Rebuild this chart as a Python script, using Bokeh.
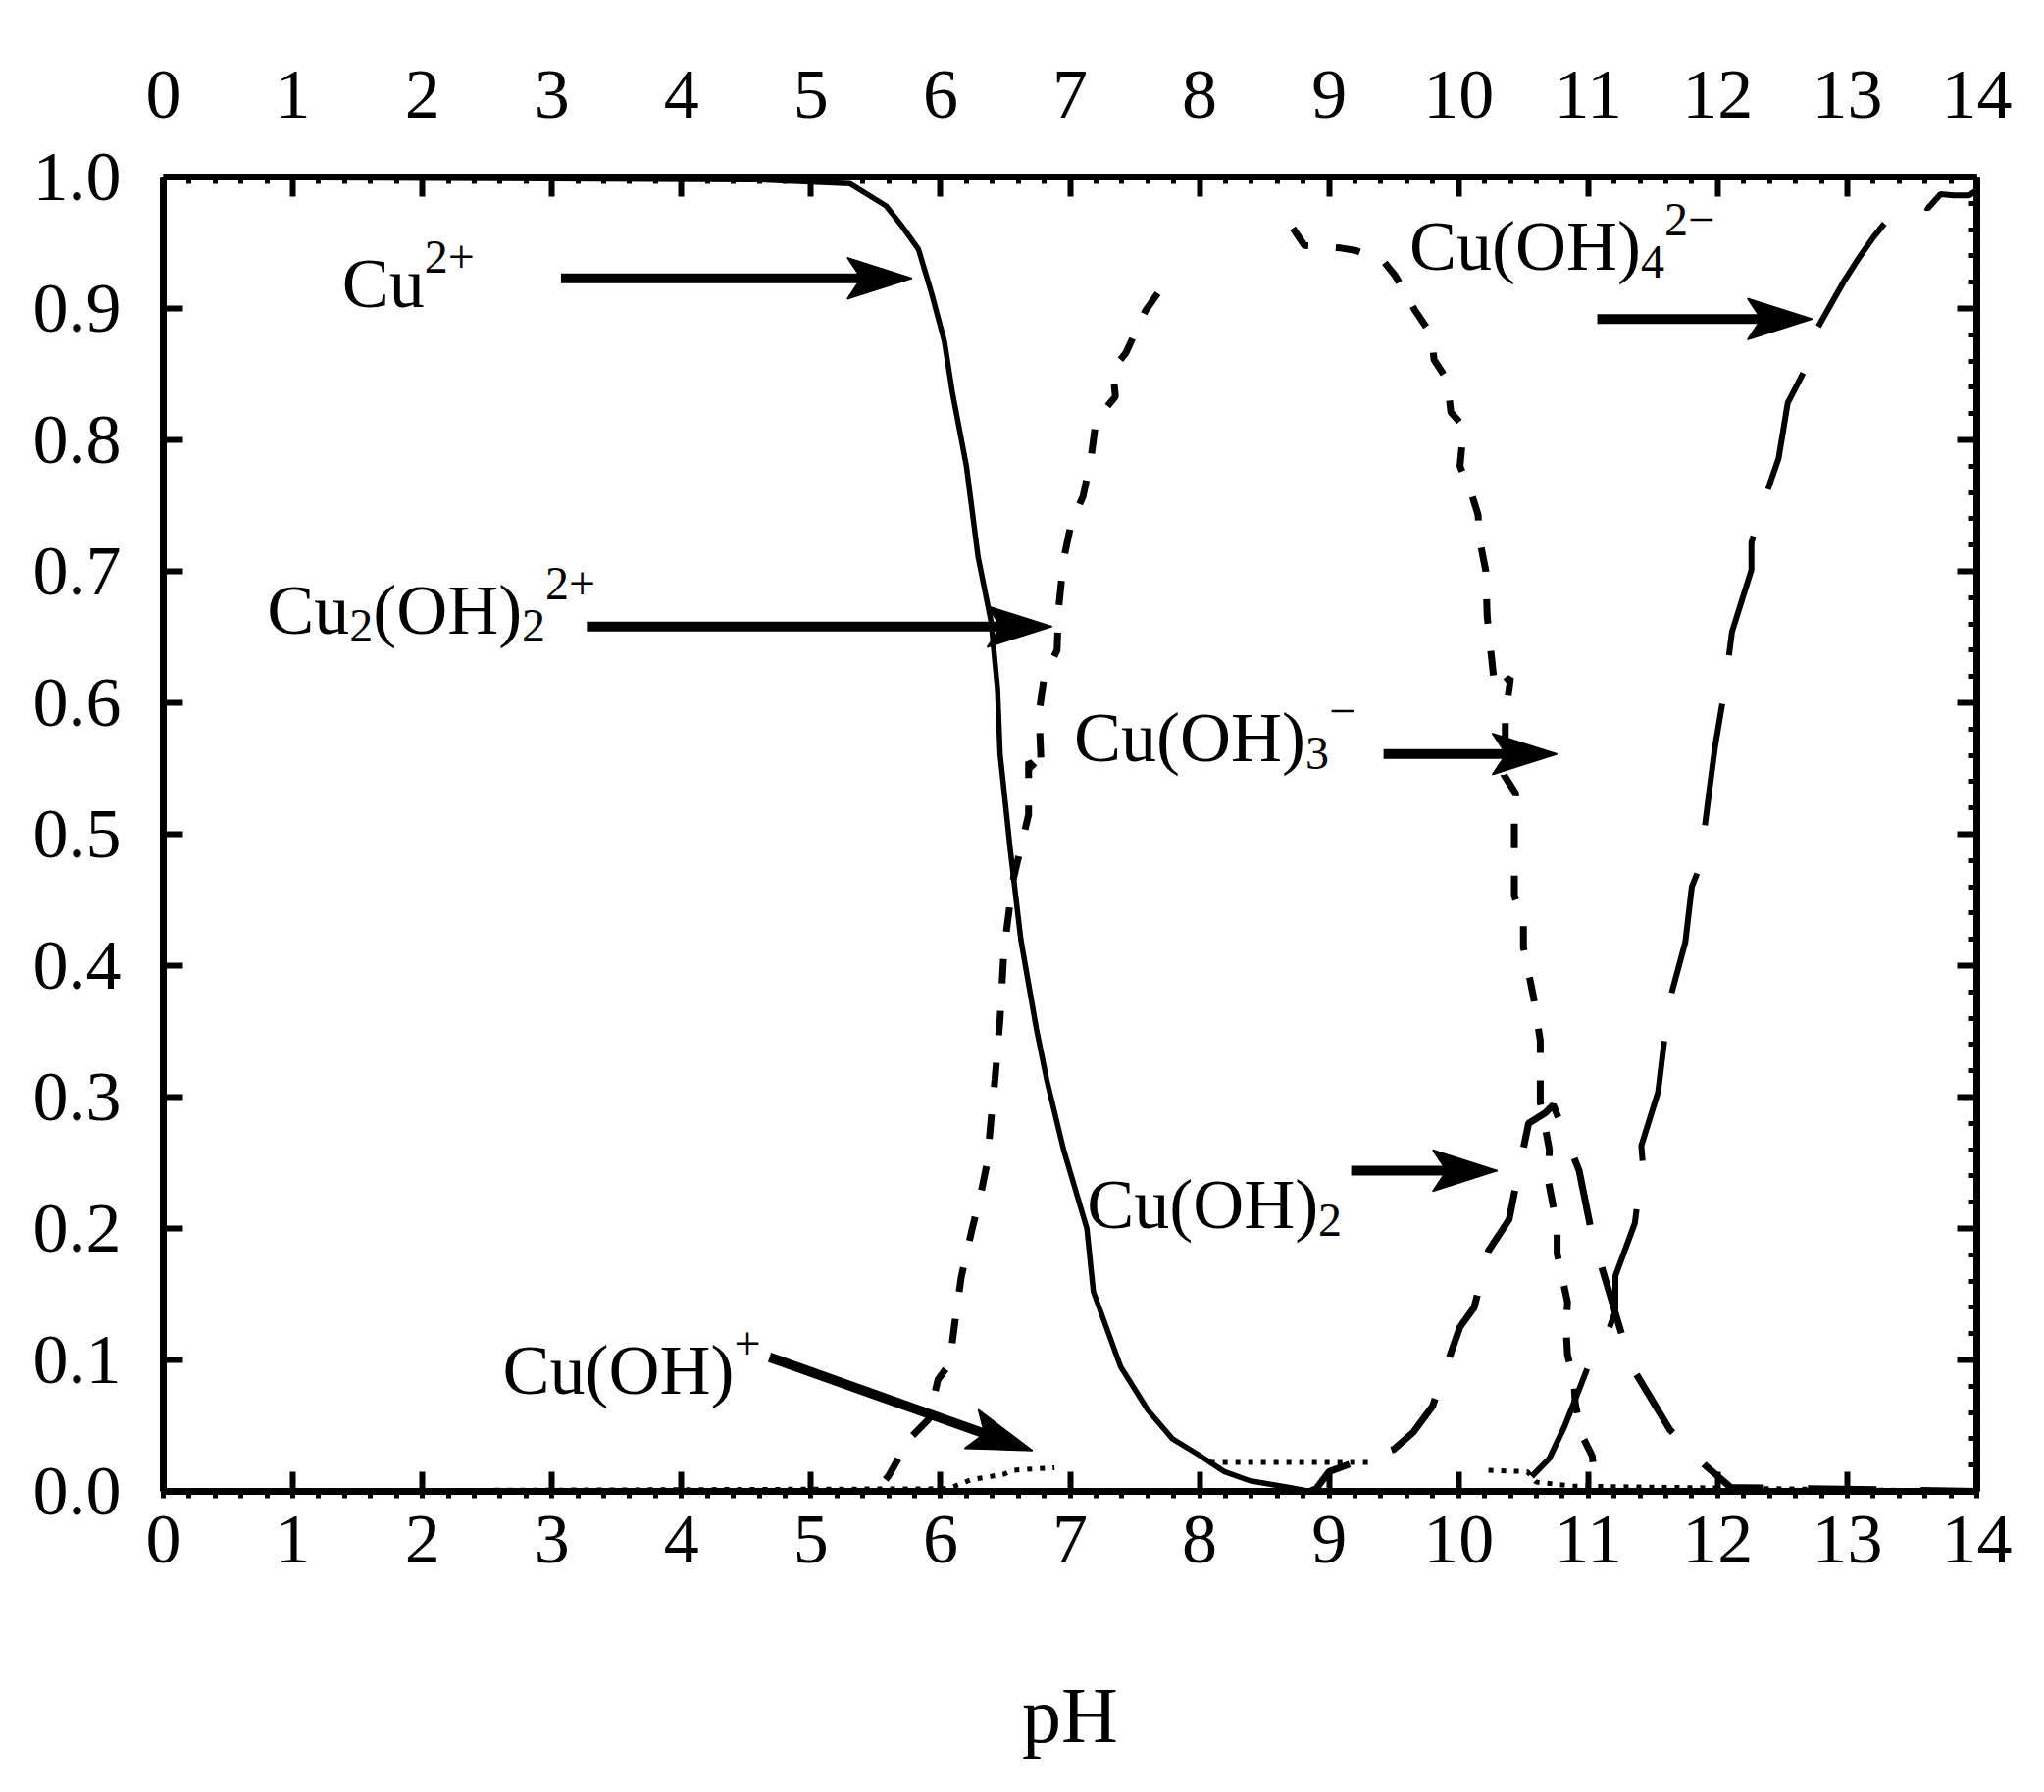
import math
from bokeh.plotting import figure
from bokeh.models import (Range1d, LinearAxis, FixedTicker, PrintfTickFormatter,
                          ColumnDataSource)
from bokeh.core.properties import value
from bokeh.embed import file_html
from bokeh.resources import INLINE

NaN = float("nan")

# ---------------- data ----------------
PH_TICKS = list(range(0, 15))
PH_MINOR = [round(i * 0.2, 1) for i in range(71)]
FRAC_TICKS = [0.0, 0.1, 0.2, 0.3, 0.4, 0.5, 0.6, 0.7, 0.8, 0.9, 1.0]
FRAC_MINOR = [round(i * 0.02, 2) for i in range(51)]

# Cu2+ (solid)
CU2_POINTS = [(0.0, 1.0), (4.6, 0.998), (5.3, 0.995), (5.58, 0.978), (5.70, 0.963),
              (5.83, 0.945), (5.93, 0.912), (6.03, 0.875), (6.09, 0.837), (6.20, 0.780),
              (6.29, 0.711), (6.39, 0.662), (6.44, 0.611), (6.46, 0.561), (6.54, 0.487),
              (6.62, 0.420), (6.74, 0.352), (6.82, 0.313), (6.95, 0.260), (7.13, 0.200),
              (7.18, 0.152), (7.39, 0.095), (7.60, 0.062), (7.79, 0.040), (7.99, 0.028),
              (8.19, 0.015), (8.39, 0.008), (8.69, 0.003), (8.85, 0.0), (14.0, 0.0)]

# Cu(OH)+ (dotted)
CUOH_POINTS = [(0.0, 0.0), (6.06, 0.002), (6.24, 0.009), (6.49, 0.013), (6.55, 0.016),
               (6.88, 0.018), (NaN, NaN), (8.08, 0.022), (9.30, 0.022), (NaN, NaN),
               (10.23, 0.016), (10.53, 0.015), (10.60, 0.007), (10.88, 0.004), (14.0, 0.0)]

# Cu2(OH)2 2+ (medium dashes, large hump)
CU2OH2_POINTS = [(0.0, 0.0), (5.50, 0.0), (5.60, 0.012), (5.76, 0.040), (5.91, 0.055),
                 (5.98, 0.085), (6.07, 0.097), (6.11, 0.128), (6.16, 0.163), (6.24, 0.198),
                 (6.31, 0.226), (6.36, 0.250), (6.39, 0.283), (6.42, 0.313), (6.46, 0.360),
                 (6.49, 0.412), (6.56, 0.465), (6.62, 0.490), (6.68, 0.515), (6.68, 0.555),
                 (6.78, 0.545), (6.76, 0.592), (6.80, 0.620), (6.90, 0.640), (6.91, 0.670),
                 (6.95, 0.709), (7.01, 0.737), (7.10, 0.757), (7.16, 0.785), (7.20, 0.815),
                 (7.35, 0.833), (7.33, 0.854), (7.43, 0.866), (7.58, 0.898), (7.68, 0.912),
                 (NaN, NaN),
                 (8.72, 0.961), (8.81, 0.948), (9.09, 0.946), (9.21, 0.944), (9.42, 0.936),
                 (9.51, 0.925), (9.66, 0.899), (9.79, 0.880), (9.81, 0.861), (9.91, 0.846),
                 (9.94, 0.821), (10.04, 0.810), (10.01, 0.780), (10.09, 0.762), (10.15, 0.743),
                 (10.16, 0.725), (10.21, 0.700), (10.22, 0.666), (10.24, 0.647), (10.28, 0.610),
                 (10.40, 0.619), (10.36, 0.587), (10.36, 0.570), (10.35, 0.545), (10.44, 0.531),
                 (10.43, 0.510), (10.43, 0.453), (10.50, 0.433), (10.50, 0.414), (10.58, 0.375),
                 (10.63, 0.343), (10.63, 0.316), (10.63, 0.296), (10.67, 0.276), (10.70, 0.260),
                 (10.69, 0.237), (10.72, 0.222), (10.76, 0.200), (10.76, 0.181), (10.84, 0.144),
                 (10.83, 0.122), (10.84, 0.104), (10.89, 0.084), (10.90, 0.067), (10.95, 0.043),
                 (11.03, 0.027), (11.06, 0.005), (11.10, 0.0), (14.0, 0.0)]

# Cu(OH)2 (long dashes, small peak)
CUOH2_POINTS = [(0.0, 0.0), (8.85, 0.0), (8.90, 0.002), (9.00, 0.015), (9.25, 0.024),
                (9.50, 0.032), (9.65, 0.045), (9.80, 0.065), (9.85, 0.080), (10.01, 0.125),
                (10.12, 0.140), (10.23, 0.183), (10.39, 0.207), (10.45, 0.237), (10.54, 0.280),
                (10.67, 0.288), (10.73, 0.294), (10.93, 0.244), (11.03, 0.195), (11.33, 0.096),
                (11.63, 0.047), (11.90, 0.020), (12.10, 0.003), (14.0, 0.0)]

# Cu(OH)4 2- (very long dashes)
CUOH4_POINTS = [(0.0, 0.0), (10.40, 0.0), (10.55, 0.010), (10.70, 0.025), (10.82, 0.050),
                (10.92, 0.075), (11.03, 0.103), (11.10, 0.107), (11.21, 0.137), (11.21, 0.164),
                (11.36, 0.204), (11.42, 0.251), (11.41, 0.263), (11.54, 0.304), (11.59, 0.345),
                (11.60, 0.363), (11.75, 0.418), (11.80, 0.460), (11.86, 0.475), (11.94, 0.537),
                (11.98, 0.567), (12.05, 0.608), (12.11, 0.654), (12.26, 0.701), (12.26, 0.722),
                (12.39, 0.763), (12.47, 0.786), (12.54, 0.828), (12.66, 0.851), (12.73, 0.878),
                (12.97, 0.920), (13.10, 0.940), (13.20, 0.954), (13.29, 0.965), (13.53, 0.981),
                (13.62, 0.976), (13.72, 0.987), (13.82, 0.986), (13.94, 0.986), (14.0, 0.990)]

# annotation labels: anchor (pH, fraction) of the baseline start, and text pieces
LABEL_X = [1.38, 0.80, 7.03, 7.13, 2.62, 9.62]
LABEL_Y = [0.900, 0.651, 0.554, 0.199, 0.073, 0.928]
LABEL_PARTS = [
    [("Cu", "n"), ("2+", "sup")],
    [("Cu", "n"), ("2", "sub"), ("(OH)", "n"), ("2", "sub"), ("2+", "sup")],
    [("Cu(OH)", "n"), ("3", "sub"), ("\u2212", "sup")],
    [("Cu(OH)", "n"), ("2", "sub")],
    [("Cu(OH)", "n"), ("+", "sup")],
    [("Cu(OH)", "n"), ("4", "sub"), ("2\u2212", "sup")],
]

# arrows (start -> tip)
ARROW_X0 = [3.07, 3.27, 9.42, 9.17, 11.07, 4.68]
ARROW_Y0 = [0.923, 0.658, 0.561, 0.244, 0.892, 0.102]
ARROW_X1 = [5.78, 6.86, 10.76, 10.30, 12.73, 6.71]
ARROW_Y1 = [0.923, 0.658, 0.561, 0.244, 0.892, 0.031]

# ---------------- layout / styling constants ----------------
W, H = 2076, 1819
BL, BR, BT, BB = 166, 61, 180, 299
FRAME_W, FRAME_H = W - BL - BR, H - BT - BB
X0, X1, Y0, Y1 = 0, 14, 0, 1
SX = FRAME_W / (X1 - X0)   # px per pH unit
SY = FRAME_H / (Y1 - Y0)   # px per fraction unit

FONT = "Liberation Serif"
MAIN_SIZE = 72
SCRIPT_SIZE = 48
SUB_DROP = 16
SUP_RISE = 27
TEXT_NUDGE = -26   # screen px (positive = down)
ADV = {"C": 0.667, "u": 0.5, "(": 0.333, "O": 0.722, "H": 0.722, ")": 0.333,
       "2": 0.5, "3": 0.5, "4": 0.5, "+": 0.564, "\u2212": 0.564}

HEAD_LEN, HEAD_HALF, HEAD_NOTCH = 66, 21, 52


def text_width(s, size):
    return sum(ADV.get(ch, 0.5) for ch in s) * size


def split(points):
    return [a for a, b in points], [b for a, b in points]


p = figure(width=W, height=H, x_range=Range1d(X0, X1), y_range=Range1d(Y0, Y1),
           output_backend="svg", toolbar_location=None,
           min_border_left=BL, min_border_right=BR, min_border_top=BT, min_border_bottom=BB)
p.grid.visible = False
p.outline_line_color = None
p.background_fill_color = "white"
p.border_fill_color = "white"

# curves
x, y = split(CU2_POINTS)
p.line(x, y, line_color="black", line_width=5.5)
x, y = split(CUOH_POINTS)
p.line(x, y, line_color="black", line_width=5, line_dash="5 8")
x, y = split(CU2OH2_POINTS)
p.line(x, y, line_color="black", line_width=7, line_dash="25 28")
x, y = split(CUOH2_POINTS)
p.line(x, y, line_color="black", line_width=7, line_dash="70 45")
x, y = split(CUOH4_POINTS)
p.line(x, y, line_color="black", line_width=6, line_dash="125 50")

# arrows: shaft + notched filled head (head shape in screen px, converted to data units)
shaft = dict(x0=[], y0=[], x1=[], y1=[])
heads_x, heads_y = [], []
for xa, ya, xb, yb in zip(ARROW_X0, ARROW_Y0, ARROW_X1, ARROW_Y1):
    dx, dy = (xb - xa) * SX, (yb - ya) * SY
    L = math.hypot(dx, dy)
    ux, uy = dx / L, dy / L
    nx, ny = -uy, ux

    def pt(along, across):
        return (xb + (along * ux + across * nx) / SX, yb + (along * uy + across * ny) / SY)

    tip = pt(0, 0)
    bl = pt(-HEAD_LEN, HEAD_HALF)
    notch = pt(-HEAD_NOTCH, 0)
    br = pt(-HEAD_LEN, -HEAD_HALF)
    heads_x.append([tip[0], bl[0], notch[0], br[0]])
    heads_y.append([tip[1], bl[1], notch[1], br[1]])
    se = pt(-HEAD_NOTCH + 4, 0)
    shaft["x0"].append(xa)
    shaft["y0"].append(ya)
    shaft["x1"].append(se[0])
    shaft["y1"].append(se[1])

p.segment(x0="x0", y0="y0", x1="x1", y1="y1", source=ColumnDataSource(shaft),
          line_color="black", line_width=10)
p.patches(heads_x, heads_y, fill_color="black", line_color="black", line_width=1.5)

# labels
main = dict(x=[], y=[], t=[], xo=[], yo=[])
scr = dict(x=[], y=[], t=[], xo=[], yo=[])
for lx, ly, parts in zip(LABEL_X, LABEL_Y, LABEL_PARTS):
    off = 0.0
    for txt, role in parts:
        d = main if role == "n" else scr
        size = MAIN_SIZE if role == "n" else SCRIPT_SIZE
        d["x"].append(lx)
        d["y"].append(ly)
        d["t"].append(txt)
        d["xo"].append(off)
        shift = 0 if role == "n" else (SUB_DROP if role == "sub" else -SUP_RISE)
        d["yo"].append(shift + TEXT_NUDGE)
        off += text_width(txt, size)

p.text(x="x", y="y", text="t", x_offset="xo", y_offset="yo", source=ColumnDataSource(main),
       text_font=value(FONT), text_font_size=f"{MAIN_SIZE}px", text_color="black",
       text_baseline="alphabetic", text_align="left")
p.text(x="x", y="y", text="t", x_offset="xo", y_offset="yo", source=ColumnDataSource(scr),
       text_font=value(FONT), text_font_size=f"{SCRIPT_SIZE}px", text_color="black",
       text_baseline="alphabetic", text_align="left")


# axes
def style(ax, major_in, minor_in, minor_out, standoff):
    ax.axis_line_width = 7
    ax.axis_line_color = "black"
    ax.major_tick_in = major_in
    ax.major_tick_out = 0
    ax.major_tick_line_width = 6
    ax.major_tick_line_color = "black"
    ax.minor_tick_in = minor_in
    ax.minor_tick_out = minor_out
    ax.minor_tick_line_width = 5
    ax.minor_tick_line_color = "black"
    ax.major_label_text_font = FONT
    ax.major_label_text_font_size = "72px"
    ax.major_label_text_color = "black"
    ax.major_label_standoff = standoff


xb_ax = p.xaxis[0]
xb_ax.ticker = FixedTicker(ticks=PH_TICKS, minor_ticks=PH_MINOR)
style(xb_ax, 20, 0, 7, 18)
xb_ax.axis_label = "pH"
xb_ax.axis_label_text_font = FONT
xb_ax.axis_label_text_font_size = "80px"
xb_ax.axis_label_text_font_style = "normal"
xb_ax.axis_label_text_color = "black"
xb_ax.axis_label_standoff = 109

xt = LinearAxis(ticker=FixedTicker(ticks=PH_TICKS, minor_ticks=PH_MINOR))
style(xt, 20, 7, 0, 61)
p.add_layout(xt, "above")

yl = p.yaxis[0]
yl.ticker = FixedTicker(ticks=FRAC_TICKS, minor_ticks=[])
yl.formatter = PrintfTickFormatter(format="%.1f")
style(yl, 20, 0, 0, 43)
yl.minor_tick_line_color = None

yr = LinearAxis(ticker=FixedTicker(ticks=FRAC_TICKS, minor_ticks=FRAC_MINOR))
style(yr, 20, 8, 0, 0)
yr.major_label_overrides = {t: "" for t in FRAC_TICKS}
p.add_layout(yr, "right")

open("out.html", "w").write(file_html(p, INLINE))
